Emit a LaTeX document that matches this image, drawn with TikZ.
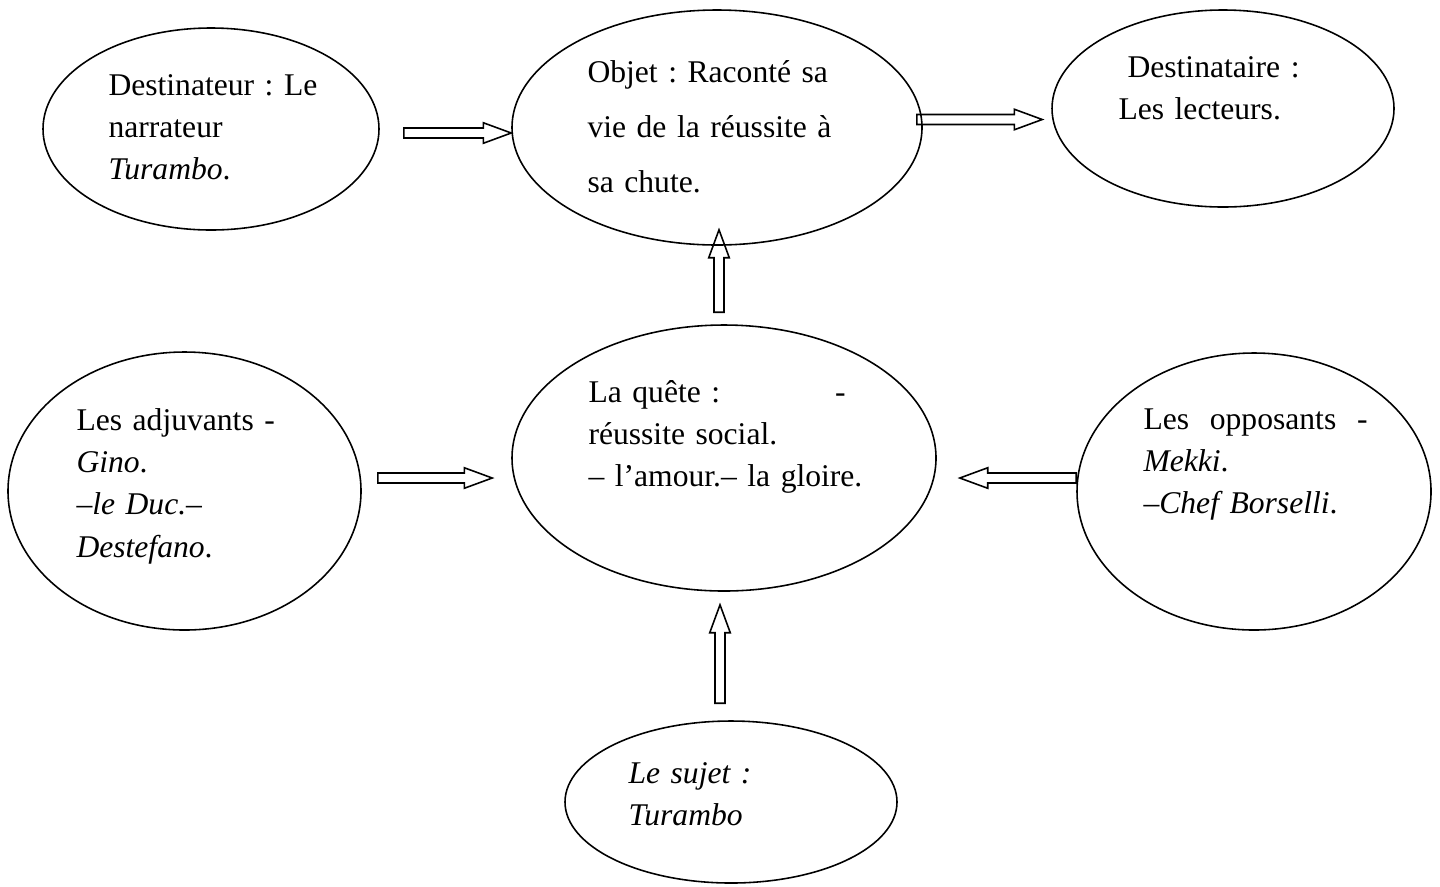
\documentclass[tikz,border=0pt]{standalone}
\usepackage{fontspec}
\setmainfont{Liberation Serif}
\usetikzlibrary{calc}
\usetikzlibrary{shapes.geometric}

\newlength{\px}
\setlength{\px}{0.3797pt}

\begin{document}
\begin{tikzpicture}[
      x=0.3797pt, y=-0.3797pt,
      actant/.style 2 args={draw, ellipse, line width=0.6pt, inner sep=0pt,
                            minimum width=#1*0.3797pt, minimum height=#2*0.3797pt},
      words/.style ={anchor=base west, inner sep=0pt, align=left, text width=300*0.3797pt,
                     font=\fontsize{12pt}{16.1pt}\selectfont\frenchspacing},
      fatarrow/.style={draw, line width=0.6pt, line join=miter,
        to path={
          ($(\tikztotarget)!10.6pt!(\tikztostart)$) coordinate (neck)
          ($(\tikztostart)!1.9pt!90:(\tikztotarget)$)
            -- ($(neck)!1.9pt!90:(\tikztotarget)$)
            -- ($(neck)!3.9pt!90:(\tikztotarget)$)
            -- (\tikztotarget)
            -- ($(neck)!3.9pt!-90:(\tikztotarget)$)
            -- ($(neck)!1.9pt!-90:(\tikztotarget)$)
            -- ($(\tikztostart)!1.9pt!-90:(\tikztotarget)$)
            -- cycle}}
    ]
    \useasboundingbox (0,0) rectangle (1440,886) ;

    % les actants
    \node [actant={336}{202}] (sender)   at (211,129)   {} ;
    \node [actant={410}{235}] (object)   at (717,127.5) {} ;
    \node [actant={342}{197}] (receiver) at (1223,108.5) {} ;
    \node [actant={353}{278}] (helper)   at (184.5,491) {} ;
    \node [actant={424}{266}] (quest)    at (724,458)   {} ;
    \node [actant={354}{277}] (opponent) at (1254,491.5) {} ;
    \node [actant={332}{162}] (subject)  at (731,802)   {} ;

    % textes
    \node [words] (sender-txt) at (108,95) {Destinateur : Le\\narrateur\\\textit{Turambo}.} ;
    \node [words, font=\fontsize{12pt}{20.9pt}\selectfont\frenchspacing] (object-txt) at (587,82)
          {Objet : Raconté sa\\vie de la réussite à\\sa chute.} ;
    \node [words] (receiver-txt) at (1118,77) {\hspace*{9\px}Destinataire :\\Les lecteurs.} ;
    \node [words] (helper-txt) at (76,430)
          {Les adjuvants -\\\textit{Gino}.\\\textit{–le Duc.–}\\\textit{Destefano}.} ;
    \node [words] (quest-txt) at (588,402)
          {\makebox[257\px][l]{La quête :\hfill-}\\réussite social.\\– l’amour.– la gloire.} ;
    \node [words] (opponent-txt) at (1143,429)
          {\makebox[224\px][l]{Les\hfill opposants\hfill -}\\\textit{Mekki}.\\\textit{–Chef Borselli}.} ;
    \node [words] (subject-txt) at (628,783) {\textit{Le sujet :}\\\textit{Turambo}} ;

    % fleches
    \draw [fatarrow] ($(sender.east)+(24,4)$) to ($(sender.east -| object.west)+(0,4)$) ;
    \draw [fatarrow] ($(object.east)+(-6,-8)$) to ($(object.east -| receiver.west)+(-9,-8)$) ;
    \draw [fatarrow] ($(quest.north)+(-5,-12)$) to ($(quest.north |- object.south)+(-5,-16)$) ;
    \draw [fatarrow] ($(helper.east)+(16,-13)$) to ($(helper.east -| quest.west)+(-19,-13)$) ;
    \draw [fatarrow] ($(opponent.west)+(0,-13.5)$) to ($(opponent.west -| quest.east)+(23,-13.5)$) ;
    \draw [fatarrow] ($(subject.north)+(-11,-17)$) to ($(subject.north |- quest.south)+(-11,13)$) ;
\end{tikzpicture}
\end{document}
